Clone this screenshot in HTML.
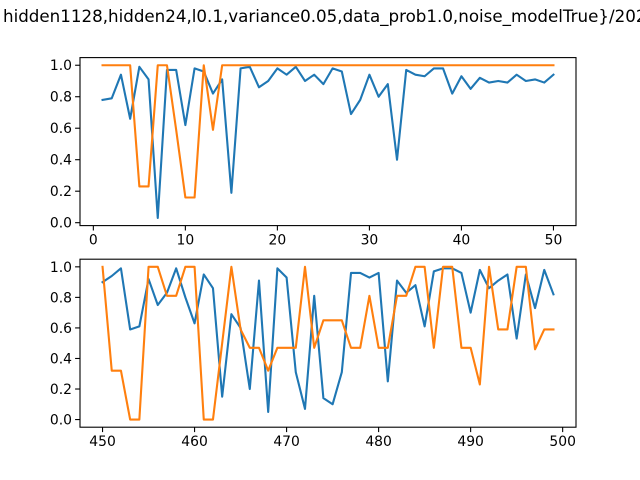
<!DOCTYPE html>
<html><head><meta charset="utf-8"><style>
html,body{margin:0;padding:0;background:#fff;}
svg{display:block;font-family:"DejaVu Sans","Liberation Sans",sans-serif;}
</style></head><body>
<svg id="fig" width="640" height="480" viewBox="0 0 640 480">
<rect width="640" height="480" fill="#fff"/>
<text x="3" y="22" font-size="16.7" fill="#000">hidden1128,hidden24,l0.1,variance0.05,data_prob1.0,noise_modelTrue}/202</text>
</svg>
<script>
const topX = Array.from({length:50},(_,i)=>i+1);
const topBlue = [0.78,0.79,0.94,0.66,0.99,0.91,0.03,0.97,0.97,0.62,0.98,0.96,0.82,0.91,0.19,0.98,0.99,0.86,0.90,0.98,0.94,0.99,0.90,0.94,0.88,0.98,0.96,0.69,0.78,0.94,0.80,0.88,0.40,0.97,0.94,0.93,0.98,0.98,0.82,0.93,0.85,0.92,0.89,0.90,0.89,0.94,0.90,0.91,0.89,0.94];
const topOrange = [1,1,1,1,0.23,0.23,1,1,0.59,0.16,0.16,1,0.59,1,1,1,1,1,1,1,1,1,1,1,1,1,1,1,1,1,1,1,1,1,1,1,1,1,1,1,1,1,1,1,1,1,1,1,1,1];
const botX = Array.from({length:50},(_,i)=>i+450);
const botBlue = [0.90,0.94,0.99,0.59,0.61,0.92,0.75,0.83,0.99,0.80,0.63,0.95,0.86,0.15,0.69,0.60,0.20,0.91,0.05,0.99,0.93,0.31,0.07,0.81,0.14,0.10,0.31,0.96,0.96,0.93,0.96,0.25,0.91,0.83,0.88,0.61,0.97,0.99,0.99,0.96,0.70,0.98,0.86,0.91,0.95,0.53,0.95,0.73,0.98,0.82];
const botOrange = [1,0.32,0.32,0,0,1,1,0.81,0.81,1,1,0,0,0.5,1,0.59,0.47,0.47,0.32,0.47,0.47,0.47,1,0.47,0.65,0.65,0.65,0.47,0.47,0.81,0.47,0.47,0.81,0.81,1,1,0.47,1,1,0.47,0.47,0.23,1,0.59,0.59,1,1,0.46,0.59,0.59];
const topXTicks = [0,10,20,30,40,50];
const botXTicks = [450,460,470,480,490,500];
const yTicks = [0,0.2,0.4,0.6,0.8,1.0];

const NS='http://www.w3.org/2000/svg';
const svg=document.getElementById('fig');
function mk(tag,attrs,parent){const e=document.createElementNS(NS,tag);for(const k in attrs)e.setAttribute(k,attrs[k]);(parent||svg).appendChild(e);return e;}

function panel(name,top,bottom,xs,ys1,ys2,xt,ymin,ymax){
  const L=80,R=576;
  const xmin=xs[0]-(xs[xs.length-1]-xs[0])*0.05, xmax=xs[xs.length-1]+(xs[xs.length-1]-xs[0])*0.05;
  const sx=v=>L+(v-xmin)/(xmax-xmin)*(R-L);
  const sy=v=>bottom-(v-ymin)/(ymax-ymin)*(bottom-top);
  const g=mk('g',{});
  
  
  [[ys1,'#1f77b4','blue-series'],[ys2,'#ff7f0e','orange-series']].forEach(([ys,c,n])=>{
    const p=mk('polyline',{points:xs.map((x,i)=>sx(x).toFixed(2)+','+sy(ys[i]).toFixed(2)).join(' '),fill:'none',stroke:c,'stroke-width':2.1,'stroke-linejoin':'round','stroke-linecap':'square'},g);
    
    
  });
  const fr=mk('rect',{x:L,y:top,width:R-L,height:bottom-top,fill:'none',stroke:'#000','stroke-width':1.1},g);
  
  
  xt.forEach(t=>{
    const x=sx(t);
    mk('line',{x1:x,y1:bottom,x2:x,y2:bottom+4.9,stroke:'#000','stroke-width':1.1},g);
    const tx=mk('text',{x:x,y:bottom+19,'font-size':13.9,'text-anchor':'middle'},g);
    tx.textContent=String(t);
    
    
  });
  yTicks.forEach(t=>{
    const y=sy(t);
    mk('line',{x1:L-4.9,y1:y,x2:L,y2:y,stroke:'#000','stroke-width':1.1},g);
    const tx=mk('text',{x:L-8,y:y+5,'font-size':13.9,'text-anchor':'end'},g);
    tx.textContent=t.toFixed(1);
    
    
  });
}
panel('top-chart',57.6,225.6,topX,topBlue,topOrange,topXTicks,-0.0185,1.0485);
panel('bottom-chart',259.2,427.2,botX,botBlue,botOrange,botXTicks,-0.05,1.05);
</script>
</body></html>
